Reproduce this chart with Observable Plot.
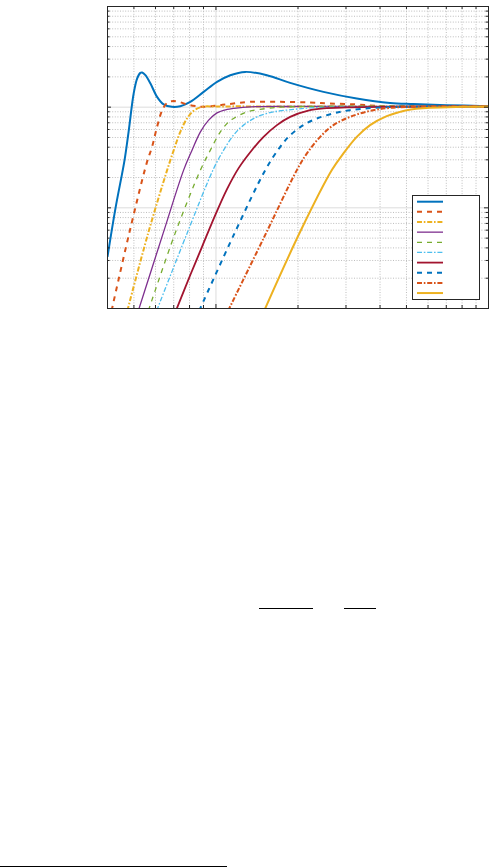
<!DOCTYPE html>
<html><head><meta charset="utf-8">
<script src="https://cdn.jsdelivr.net/npm/d3@7"></script>
<script src="https://cdn.jsdelivr.net/npm/@observablehq/plot@0.6"></script>
<style>
html,body{margin:0;padding:0;background:#fff;}
#page{position:relative;width:497px;height:868px;overflow:hidden;}
#chart{position:absolute;left:0;top:0;}
.rule{position:absolute;background:#000;height:1px;}
</style></head><body>
<div id="page"><div id="chart"></div>
<div class="rule" style="left:259px;top:608px;width:54px"></div>
<div class="rule" style="left:344px;top:608px;width:32px"></div>
<div class="rule" style="left:0px;top:866px;width:227px"></div>
</div>
<script>
// axes
const xDomain = [0.4, 10];
const yDomain = [0.01, 10];
const xMajor = [1, 10];
const xMinor = [0.5, 0.6, 0.7, 0.8, 0.9, 2, 3, 4, 5, 6, 7, 8, 9];
const yMajor = [0.01, 0.1, 1, 10];
const yMinor = [0.02,0.03,0.04,0.05,0.06,0.07,0.08,0.09,0.2,0.3,0.4,0.5,0.6,0.7,0.8,0.9,2,3,4,5,6,7,8,9];

// series (x, y)
const c1x = [0.4,0.428,0.462,0.478,0.499,0.514,0.528,0.536,0.551,0.575,0.608,0.643,0.690,0.740,0.805,0.901,1.009,1.129,1.281,1.538,1.872,2.480,3.286,4.352,5.297,7.02,10];
const c1y = [0.0326,0.0993,0.298,0.569,1.368,1.928,2.191,2.211,2.078,1.719,1.266,1.064,1.007,1.023,1.129,1.419,1.783,2.078,2.241,2.078,1.743,1.419,1.220,1.103,1.076,1.047,1.023];
const c2x = [0.414,0.480,0.557,0.583,0.608,0.635,0.662,0.690,0.730,0.783,0.852,0.901,1.038,1.160,1.336,1.721,2.217,2.624,3.286,4.10,10];
const c2y = [0.0095,0.0551,0.278,0.404,0.637,0.934,1.103,1.147,1.129,1.064,1.023,1.007,1.047,1.088,1.129,1.129,1.114,1.088,1.064,1.023,1.011];
const c3x = [0.473,0.563,0.662,0.700,0.740,0.783,0.828,0.889,1.0,2.037,10];
const c3y = [0.0095,0.0551,0.237,0.374,0.569,0.772,0.919,1.007,1.016,1.016,1.016];
const c4x = [0.519,0.639,0.761,0.817,0.877,0.940,1.009,1.098,1.160,1.336,2.037,10];
const c4y = [0.0095,0.0551,0.237,0.374,0.569,0.743,0.878,0.949,0.971,1.007,1.016,1.016];
const c5x = [0.565,0.707,0.877,0.954,1.038,1.113,1.160,1.300,1.538,1.820,10];
const c5y = [0.0095,0.0551,0.237,0.374,0.569,0.714,0.772,0.898,0.971,1.007,1.016];
const c6x = [0.606,0.782,0.981,1.067,1.160,1.263,1.414,1.627,1.925,2.217,3.106,10];
const c6y = [0.0095,0.0551,0.246,0.374,0.527,0.663,0.801,0.898,0.949,0.984,1.007,1.016];
const c7x = [0.713,0.805,0.889,0.994,1.098,1.211,1.336,1.495,1.674,1.872,2.180,2.480,3.020,4.736,10];
const c7y = [0.0095,0.0215,0.0410,0.0846,0.1534,0.248,0.357,0.507,0.663,0.801,0.923,0.971,0.993,1.011,1.016];
const c8x = [0.868,1.167,1.517,1.721,1.872,2.094,2.346,2.698,3.106,3.781,4.736,10];
const c8y = [0.0095,0.0551,0.237,0.404,0.527,0.663,0.772,0.866,0.934,0.984,1.007,1.016];
const c9x = [1.108,1.491,1.981,2.156,2.412,2.698,3.106,3.677,4.352,5.60,10];
const c9y = [0.0095,0.0490,0.237,0.347,0.507,0.663,0.801,0.919,0.984,1.011,1.016];
const c10x = [1.503,2.037,2.662,2.935,3.286,3.677,4.232,4.736,5.012,6.10,8.06,10];
const c10y = [0.0095,0.0578,0.237,0.347,0.507,0.663,0.814,0.898,0.934,0.984,1.007,1.016];

const seriesX = [c1x,c2x,c3x,c4x,c5x,c6x,c7x,c8x,c9x,c10x];
const seriesY = [c1y,c2y,c3y,c4y,c5y,c6y,c7y,c8y,c9y,c10y];
const colors = ["#0072BD","#D95319","#EDB120","#7E2F8E","#77AC30","#4DBEEE","#A2142F","#0072BD","#D95319","#EDB120"];
const widths = [2, 2, 2, 1.3, 1.3, 1.3, 1.8, 2, 2, 2];
const DASH = "5,5", DASHDOT = "5,1.8,1.6,1.8";
const dashes = [null, DASH, DASHDOT, null, DASH, DASHDOT, null, DASH, DASHDOT, null];

const W = 497, H = 320, mL = 107, mR = 9, mT = 6, mB = 12;
const innerW = W - mL - mR, innerH = H - mT - mB;

const lineMarks = seriesX.map((xs, i) => {
  const data = xs.map((x, j) => ({x, y: seriesY[i][j]}));
  return Plot.line(data, {x: "x", y: "y", stroke: colors[i], strokeWidth: widths[i],
    strokeDasharray: dashes[i], curve: "catmull-rom", clip: true, strokeLinecap: "butt"});
});

const grid = "#bdbdbd", gridMajor = "#dcdcdc", axisColor = "#262626";
const chart = Plot.plot({
  width: W, height: H,
  marginLeft: mL, marginRight: mR, marginTop: mT, marginBottom: mB,
  x: {type: "log", domain: xDomain, axis: null},
  y: {type: "log", domain: yDomain, axis: null},
  marks: [
    Plot.ruleX(xMinor, {stroke: grid, strokeDasharray: "1,1.6"}),
    Plot.ruleY(yMinor, {stroke: grid, strokeDasharray: "1,1.6"}),
    Plot.ruleX(xMajor, {stroke: gridMajor}),
    Plot.ruleY(yMajor, {stroke: gridMajor}),
    ...lineMarks,
    // inward ticks
    Plot.ruleX(xMajor, {stroke: axisColor, insetTop: innerH - 4}),
    Plot.ruleX(xMajor, {stroke: axisColor, insetBottom: innerH - 4}),
    Plot.ruleX(xMinor, {stroke: axisColor, insetTop: innerH - 3}),
    Plot.ruleX(xMinor, {stroke: axisColor, insetBottom: innerH - 3}),
    Plot.ruleY(yMajor, {stroke: axisColor, insetRight: innerW - 4}),
    Plot.ruleY(yMajor, {stroke: axisColor, insetLeft: innerW - 4}),
    Plot.ruleY(yMinor, {stroke: axisColor, insetRight: innerW - 2.5}),
    Plot.ruleY(yMinor, {stroke: axisColor, insetLeft: innerW - 2.5}),
    Plot.frame({stroke: axisColor, strokeWidth: 1})
  ]
});
document.getElementById("chart").appendChild(chart);

// legend box (entries without labels, as in the reference)
const svg = d3.select(chart);
const lgW = 67, lgH = 104;
const lgX = W - mR - 9 - lgW, lgY = H - mB - 9 - lgH;
const lg = svg.append("g");
lg.append("rect").attr("x", lgX + 0.5).attr("y", lgY + 0.5).attr("width", lgW).attr("height", lgH)
  .attr("fill", "#fff").attr("stroke", axisColor).attr("stroke-width", 1);
colors.forEach((c, i) => {
  const yy = lgY + 6.7 + i * 10.15;
  lg.append("line").attr("x1", lgX + 5).attr("x2", lgX + 31).attr("y1", yy).attr("y2", yy)
    .attr("stroke", c).attr("stroke-width", widths[i])
    .attr("stroke-dasharray", dashes[i]);
});
</script>
</body></html>
